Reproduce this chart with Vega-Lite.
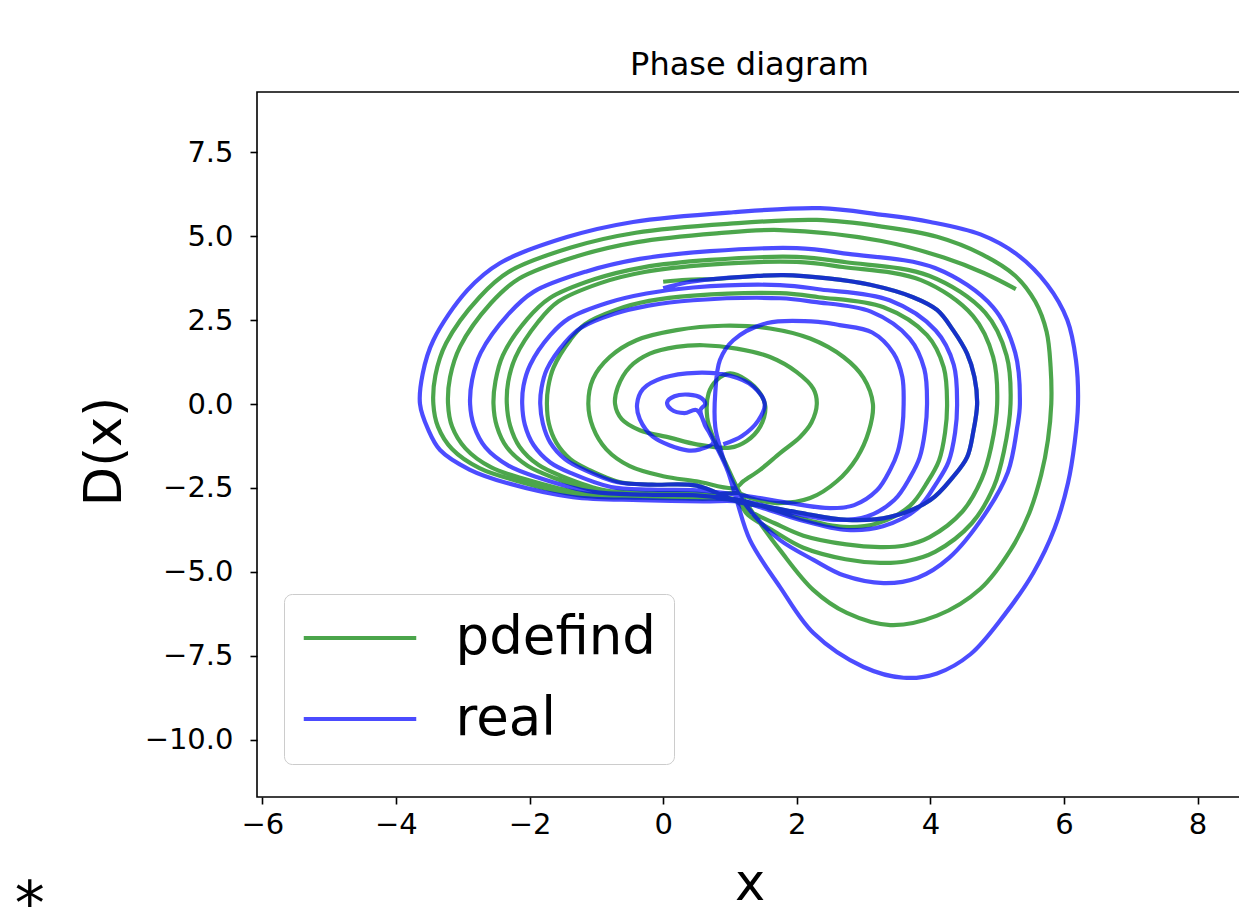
{
  "$schema": "https://vega.github.io/schema/vega-lite/v6.json",
  "width": 985,
  "height": 705,
  "autosize": {"type": "none"},
  "padding": {"left": 257, "top": 92, "right": 0, "bottom": 119},
  "background": "white",
  "title": {"text": "Phase diagram", "fontSize": 32, "font": "DejaVu Sans", "fontWeight": "normal", "color": "#000000", "baseline": "alphabetic", "offset": -15, "anchor": "middle"},
  "config": {
    "font": "DejaVu Sans",
    "view": {"stroke": "#000000", "strokeWidth": 1.6},
    "axis": {"domain": false, "grid": false, "labelFont": "DejaVu Sans", "labelFontSize": 29, "labelColor": "#000000", "tickColor": "#000000", "tickSize": 7, "tickWidth": 1.6, "titleFont": "DejaVu Sans", "titleFontWeight": "normal", "titleColor": "#000000", "titleFontSize": 51, "labelFlush": false, "labelOverlap": false}
  },
  "layer": [
    {
      "data": {"values": [
        {"x":0,"y":3.64},{"x":0.35,"y":3.7},{"x":0.75,"y":3.72},{"x":1.3,"y":3.8},{"x":1.8,"y":3.84},{"x":2.47,"y":3.74},{"x":3.1,"y":3.55},{"x":3.74,"y":3.18},{"x":4.1,"y":2.8},{"x":4.34,"y":2.2},{"x":4.55,"y":1.5},{"x":4.66,"y":0.8},{"x":4.7,"y":0},{"x":4.64,"y":-0.85},{"x":4.55,"y":-1.58},{"x":4.34,"y":-2.17},{"x":4,"y":-2.86},{"x":3.4,"y":-3.36},{"x":2.75,"y":-3.45},{"x":2.05,"y":-3.24},{"x":1.55,"y":-3.05},{"x":1.15,"y":-2.93},
        {"x":0.5,"y":-2.43},{"x":-0.16,"y":-2.4},{"x":-0.64,"y":-2.33},{"x":-1.11,"y":-1.96},{"x":-1.39,"y":-1.64},{"x":-1.6,"y":-1.15},{"x":-1.71,"y":-0.59},{"x":-1.74,"y":0},{"x":-1.72,"y":0.51},{"x":-1.64,"y":1.09},{"x":-1.39,"y":1.91},{"x":-1.17,"y":2.38},{"x":-0.7,"y":2.81},{"x":-0.21,"y":3.07},{"x":0.45,"y":3.23},{"x":1.75,"y":3.3},{"x":2.33,"y":3.18},{"x":3.3,"y":2.88},{"x":3.95,"y":2.05},{"x":4.2,"y":1.09},{"x":4.25,"y":0},{"x":4.22,"y":-0.85},{"x":4.13,"y":-1.68},{"x":3.96,"y":-2.31},{"x":3.69,"y":-3.04},{"x":3.21,"y":-3.55},{"x":2.7,"y":-3.66},{"x":2.05,"y":-3.4},{"x":1.5,"y":-3.05},{"x":1.12,"y":-2.85},
        {"x":0.5,"y":-2.67},{"x":-0.21,"y":-2.65},{"x":-0.87,"y":-2.57},{"x":-1.5,"y":-2.16},{"x":-1.87,"y":-1.81},{"x":-2.15,"y":-1.27},{"x":-2.29,"y":-0.65},{"x":-2.34,"y":0},{"x":-2.32,"y":0.66},{"x":-2.21,"y":1.4},{"x":-1.87,"y":2.45},{"x":-1.57,"y":3.05},{"x":-0.94,"y":3.6},{"x":-0.28,"y":3.93},{"x":0.7,"y":4.15},{"x":2,"y":4.23},{"x":2.69,"y":4.08},{"x":3.86,"y":3.69},{"x":4.64,"y":2.62},{"x":4.94,"y":1.4},{"x":5,"y":0},{"x":4.91,"y":-1.28},{"x":4.77,"y":-2.22},{"x":4.48,"y":-3.2},{"x":3.99,"y":-3.96},{"x":3.6,"y":-4.22},{"x":3.25,"y":-4.26},{"x":2.74,"y":-4.18},{"x":2.1,"y":-3.92},{"x":1.67,"y":-3.55},{"x":1.29,"y":-3.18},{"x":1.12,"y":-2.88},
        {"x":0.5,"y":-2.72},{"x":-0.23,"y":-2.7},{"x":-0.94,"y":-2.61},{"x":-1.63,"y":-2.2},{"x":-2.03,"y":-1.84},{"x":-2.34,"y":-1.29},{"x":-2.49,"y":-0.66},{"x":-2.54,"y":0},{"x":-2.51,"y":0.68},{"x":-2.4,"y":1.45},{"x":-2.03,"y":2.54},{"x":-1.7,"y":3.15},{"x":-1.02,"y":3.72},{"x":-0.3,"y":4.07},{"x":0.7,"y":4.29},{"x":2,"y":4.38},{"x":2.74,"y":4.22},{"x":3.98,"y":3.82},{"x":4.82,"y":2.72},{"x":5.14,"y":1.45},{"x":5.2,"y":0},{"x":5.1,"y":-1.42},{"x":4.95,"y":-2.46},{"x":4.62,"y":-3.55},{"x":4.07,"y":-4.4},{"x":3.64,"y":-4.68},{"x":3.25,"y":-4.73},{"x":2.73,"y":-4.62},{"x":2.09,"y":-4.27},{"x":1.66,"y":-3.79},{"x":1.27,"y":-3.3},{"x":1.1,"y":-2.9},
        {"x":0.5,"y":-2.82},{"x":-0.31,"y":-2.79},{"x":-1.27,"y":-2.71},{"x":-2.2,"y":-2.28},{"x":-2.75,"y":-1.91},{"x":-3.16,"y":-1.34},{"x":-3.37,"y":-0.68},{"x":-3.44,"y":0},{"x":-3.41,"y":0.85},{"x":-3.25,"y":1.81},{"x":-2.75,"y":3.18},{"x":-2.3,"y":3.95},{"x":-1.38,"y":4.66},{"x":-0.41,"y":5.1},{"x":1,"y":5.37},{"x":2.3,"y":5.48},{"x":3.25,"y":5.29},{"x":4.1,"y":4.98},{"x":4.78,"y":4.45},{"x":5.27,"y":3.82},{"x":5.57,"y":3.05},{"x":5.74,"y":2.15},{"x":5.8,"y":1.1},{"x":5.81,"y":0},{"x":5.76,"y":-1.07},{"x":5.66,"y":-2.1},{"x":5.48,"y":-3.25},{"x":5.2,"y":-4.35},{"x":4.75,"y":-5.5},{"x":4.1,"y":-6.3},{"x":3.4,"y":-6.58},{"x":2.75,"y":-6.22},{"x":2.25,"y":-5.54},{"x":1.75,"y":-4.35},{"x":1.4,"y":-3.4},{"x":1.15,"y":-2.65},{"x":0.92,"y":-1.7},{"x":0.74,"y":-0.95},{"x":0.66,"y":-0.4},
        {"x":0.68,"y":0.32},{"x":0.8,"y":0.71},{"x":1,"y":0.91},{"x":1.25,"y":0.71},{"x":1.45,"y":0.32},{"x":1.53,"y":-0.08},{"x":1.45,"y":-0.68},{"x":1.25,"y":-1.1},{"x":1,"y":-1.3},{"x":0.5,"y":-1.2},{"x":0.1,"y":-1},{"x":-0.35,"y":-0.78},{"x":-0.62,"y":-0.45},{"x":-0.72,"y":0},{"x":-0.68,"y":0.5},{"x":-0.5,"y":1.1},{"x":-0.2,"y":1.5},{"x":0.2,"y":1.7},{"x":0.6,"y":1.75},{"x":1.1,"y":1.65},{"x":1.6,"y":1.4},{"x":2,"y":0.95},{"x":2.25,"y":0.45},{"x":2.3,"y":0},{"x":2.22,"y":-0.55},{"x":2.05,"y":-0.98},{"x":1.75,"y":-1.46},{"x":1.45,"y":-1.96},{"x":1.2,"y":-2.3},{"x":1.08,"y":-2.5},
        {"x":0.5,"y":-2.3},{"x":0,"y":-2.15},{"x":-0.5,"y":-1.85},{"x":-0.85,"y":-1.35},{"x":-1.05,"y":-0.7},{"x":-1.12,"y":0},{"x":-1.05,"y":0.75},{"x":-0.8,"y":1.4},{"x":-0.4,"y":1.9},{"x":0.2,"y":2.2},{"x":0.9,"y":2.33},{"x":1.6,"y":2.25},{"x":2.2,"y":1.95},{"x":2.7,"y":1.4},{"x":3,"y":0.78},{"x":3.14,"y":0},{"x":3.08,"y":-0.8},{"x":2.9,"y":-1.6},{"x":2.6,"y":-2.3},{"x":2.2,"y":-2.8},{"x":1.7,"y":-2.95},{"x":1.3,"y":-2.8},{"x":1.12,"y":-2.65},
        {"x":0.5,"y":-2.77},{"x":-0.29,"y":-2.74},{"x":-1.19,"y":-2.66},{"x":-2.06,"y":-2.24},{"x":-2.58,"y":-1.88},{"x":-2.96,"y":-1.32},{"x":-3.16,"y":-0.67},{"x":-3.22,"y":0},{"x":-3.19,"y":0.8},{"x":-3.04,"y":1.71},{"x":-2.58,"y":3},{"x":-2.16,"y":3.73},{"x":-1.29,"y":4.4},{"x":-0.39,"y":4.82},{"x":0.8,"y":5.08},{"x":1.75,"y":5.18},{"x":3.25,"y":4.86},{"x":4.2,"y":4.36},{"x":4.8,"y":3.9},{"x":5.28,"y":3.42}
      ]},
      "mark": {"type": "line", "strokeWidth": 4.2, "opacity": 0.7, "interpolate": "catmull-rom"},
      "encoding": {
        "x": {"field": "x", "type": "quantitative", "scale": {"domain": [-6.08, 8.665], "nice": false, "zero": false},
              "axis": {"values": [-6, -4, -2, 0, 2, 4, 6, 8], "format": ".0f", "labelPadding": 6, "title": "x", "titleBaseline": "alphabetic", "titleY": 102}},
        "y": {"field": "y", "type": "quantitative", "scale": {"domain": [-11.7, 9.29], "nice": false, "zero": false},
              "axis": {"values": [-10, -7.5, -5, -2.5, 0, 2.5, 5, 7.5], "format": ".1f", "labelPadding": 17, "title": "D(x)", "titleAngle": -90, "titleBaseline": "middle", "titleAlign": "center", "titleX": -152, "titleY": 359}},
        "order": {"value": null},
        "color": {"datum": "pdefind", "type": "nominal",
                  "scale": {"domain": ["pdefind", "real"], "range": ["#008000", "#0000ff"]},
                  "legend": {"orient": "none", "legendX": 27, "legendY": 502, "title": null, "symbolType": "M-2.5,0H2.5", "symbolSize": 2025, "symbolStrokeWidth": 4, "labelFont": "DejaVu Sans", "labelFontSize": 53, "labelColor": "#000000", "labelLimit": 600, "labelOffset": 69, "symbolOffset": 32, "rowPadding": 27, "padding": 17.5, "fillColor": "rgba(255,255,255,0.8)", "strokeColor": "#cccccc", "cornerRadius": 8}}
      }
    },
    {
      "data": {"values": [
        {"x":0,"y":3.45},{"x":0.35,"y":3.62},{"x":0.75,"y":3.72},{"x":1.3,"y":3.8},{"x":1.8,"y":3.84},{"x":2.47,"y":3.74},{"x":3.1,"y":3.55},{"x":3.74,"y":3.18},{"x":4.1,"y":2.8},{"x":4.34,"y":2.2},{"x":4.55,"y":1.5},{"x":4.66,"y":0.8},{"x":4.7,"y":0},{"x":4.64,"y":-0.85},{"x":4.55,"y":-1.58},{"x":4.34,"y":-2.17},{"x":4,"y":-2.86},{"x":3.4,"y":-3.36},{"x":2.75,"y":-3.45},{"x":2.05,"y":-3.24},{"x":1.55,"y":-3.05},{"x":1.15,"y":-2.93},
        {"x":0.5,"y":-2.43},{"x":-0.17,"y":-2.4},{"x":-0.68,"y":-2.33},{"x":-1.18,"y":-1.96},{"x":-1.47,"y":-1.64},{"x":-1.69,"y":-1.15},{"x":-1.8,"y":-0.59},{"x":-1.84,"y":0},{"x":-1.82,"y":0.49},{"x":-1.74,"y":1.04},{"x":-1.47,"y":1.83},{"x":-1.23,"y":2.27},{"x":-0.74,"y":2.68},{"x":-0.22,"y":2.93},{"x":0.45,"y":3.09},{"x":1.75,"y":3.15},{"x":2.26,"y":3.04},{"x":3.11,"y":2.75},{"x":3.69,"y":1.95},{"x":3.91,"y":1.04},{"x":3.95,"y":0},{"x":3.92,"y":-0.8},{"x":3.84,"y":-1.59},{"x":3.7,"y":-2.17},{"x":3.46,"y":-2.86},{"x":3.05,"y":-3.35},{"x":2.6,"y":-3.45},{"x":1.95,"y":-3.25},{"x":1.5,"y":-3.02},{"x":1.1,"y":-2.85},
        {"x":0.5,"y":-2.72},{"x":-0.26,"y":-2.7},{"x":-1.07,"y":-2.61},{"x":-1.85,"y":-2.2},{"x":-2.31,"y":-1.84},{"x":-2.66,"y":-1.29},{"x":-2.83,"y":-0.66},{"x":-2.89,"y":0},{"x":-2.86,"y":0.72},{"x":-2.73,"y":1.53},{"x":-2.31,"y":2.69},{"x":-1.94,"y":3.34},{"x":-1.16,"y":3.94},{"x":-0.35,"y":4.32},{"x":0.7,"y":4.55},{"x":2,"y":4.64},{"x":2.77,"y":4.47},{"x":4.07,"y":4.05},{"x":4.94,"y":2.88},{"x":5.27,"y":1.53},{"x":5.34,"y":0},{"x":5.3,"y":-0.69},{"x":5.16,"y":-2.03},{"x":4.81,"y":-3.3},{"x":4.28,"y":-4.58},{"x":3.81,"y":-5.17},{"x":3.3,"y":-5.33},{"x":2.7,"y":-5.1},{"x":2.25,"y":-4.64},{"x":1.75,"y":-4.05},{"x":1.4,"y":-3.4},{"x":1.15,"y":-2.75},{"x":0.96,"y":-1.96},{"x":0.85,"y":-1.28},{"x":0.78,"y":-0.68},{"x":0.78,"y":0.33},{"x":0.85,"y":1.31},{"x":1.05,"y":1.9},{"x":1.56,"y":2.41},{"x":2.35,"y":2.44},
        {"x":2.64,"y":2.35},{"x":3.13,"y":2.13},{"x":3.45,"y":1.51},{"x":3.58,"y":0.81},{"x":3.6,"y":0},{"x":3.58,"y":-0.7},{"x":3.51,"y":-1.43},{"x":3.4,"y":-1.95},{"x":3.2,"y":-2.57},{"x":2.86,"y":-3.01},{"x":2.5,"y":-3.1},{"x":1.9,"y":-2.95},{"x":1.45,"y":-2.8},{"x":1.12,"y":-2.7},
        {"x":0.5,"y":-2.57},{"x":-0.19,"y":-2.55},{"x":-0.78,"y":-2.47},{"x":-1.35,"y":-2.08},{"x":-1.69,"y":-1.74},{"x":-1.94,"y":-1.22},{"x":-2.07,"y":-0.62},{"x":-2.11,"y":0},{"x":-2.09,"y":0.55},{"x":-1.99,"y":1.17},{"x":-1.69,"y":2.05},{"x":-1.41,"y":2.55},{"x":-0.84,"y":3.01},{"x":-0.25,"y":3.29},{"x":0.45,"y":3.47},{"x":1.75,"y":3.54},{"x":2.36,"y":3.41},{"x":3.39,"y":3.09},{"x":4.08,"y":2.19},{"x":4.35,"y":1.17},{"x":4.4,"y":0},{"x":4.37,"y":-0.85},{"x":4.27,"y":-1.73},{"x":4.09,"y":-2.36},{"x":3.81,"y":-3.11},{"x":3.29,"y":-3.64},{"x":2.75,"y":-3.75},{"x":2.05,"y":-3.45},{"x":1.5,"y":-3.1},{"x":1.12,"y":-2.9},
        {"x":0.6,"y":-2.9},{"x":-0.34,"y":-2.86},{"x":-1.35,"y":-2.77},{"x":-2.34,"y":-2.35},{"x":-2.9,"y":-1.95},{"x":-3.34,"y":-1.37},{"x":-3.52,"y":-0.75},{"x":-3.64,"y":0},{"x":-3.6,"y":0.9},{"x":-3.44,"y":1.9},{"x":-2.93,"y":3.39},{"x":-2.44,"y":4.2},{"x":-1.44,"y":4.97},{"x":-0.45,"y":5.42},{"x":1.05,"y":5.71},{"x":2.35,"y":5.83},{"x":3.25,"y":5.64},{"x":4,"y":5.42},{"x":4.75,"y":5.05},{"x":5.3,"y":4.45},{"x":5.75,"y":3.55},{"x":6.05,"y":2.5},{"x":6.18,"y":1.3},{"x":6.21,"y":0},{"x":6.16,"y":-1.15},{"x":6.06,"y":-2.35},{"x":5.86,"y":-3.7},{"x":5.54,"y":-5.03},{"x":5.1,"y":-6.3},{"x":4.6,"y":-7.45},{"x":4.1,"y":-8.02},{"x":3.6,"y":-8.15},{"x":3,"y":-7.83},{"x":2.25,"y":-6.82},{"x":1.75,"y":-5.45},{"x":1.3,"y":-4.05},{"x":1.1,"y":-2.86},{"x":0.96,"y":-1.96},{"x":0.8,"y":-1.28},{"x":0.65,"y":-0.7},{"x":0.5,"y":-0.18},
        {"x":0.32,"y":-0.27},{"x":0.12,"y":-0.16},{"x":0.06,"y":0.05},{"x":0.17,"y":0.23},{"x":0.38,"y":0.28},{"x":0.57,"y":0.18},{"x":0.63,"y":0},{"x":0.56,"y":-0.17},{"x":0.62,"y":-0.6},{"x":0.75,"y":-1.15},{"x":0.55,"y":-1.35},{"x":0.36,"y":-1.38},{"x":-0.15,"y":-0.98},{"x":-0.35,"y":-0.45},{"x":-0.39,"y":0},{"x":-0.3,"y":0.45},{"x":0,"y":0.78},{"x":0.5,"y":0.93},{"x":1,"y":0.84},{"x":1.35,"y":0.52},{"x":1.52,"y":0},{"x":1.42,"y":-0.5},{"x":1.18,"y":-0.95},{"x":0.9,"y":-1.2}
      ]},
      "mark": {"type": "line", "strokeWidth": 4.2, "opacity": 0.7, "interpolate": "catmull-rom"},
      "encoding": {
        "x": {"field": "x", "type": "quantitative"},
        "y": {"field": "y", "type": "quantitative"},
        "order": {"value": null},
        "color": {"datum": "real", "type": "nominal"}
      }
    },
    {
      "data": {"values": [{"t": "*", "x": -9.48, "y": -14.95}]},
      "mark": {"type": "text", "fontSize": 60, "font": "DejaVu Sans", "color": "#000000", "baseline": "middle", "align": "center"},
      "encoding": {
        "x": {"field": "x", "type": "quantitative"},
        "y": {"field": "y", "type": "quantitative"},
        "text": {"field": "t"}
      }
    }
  ]
}
